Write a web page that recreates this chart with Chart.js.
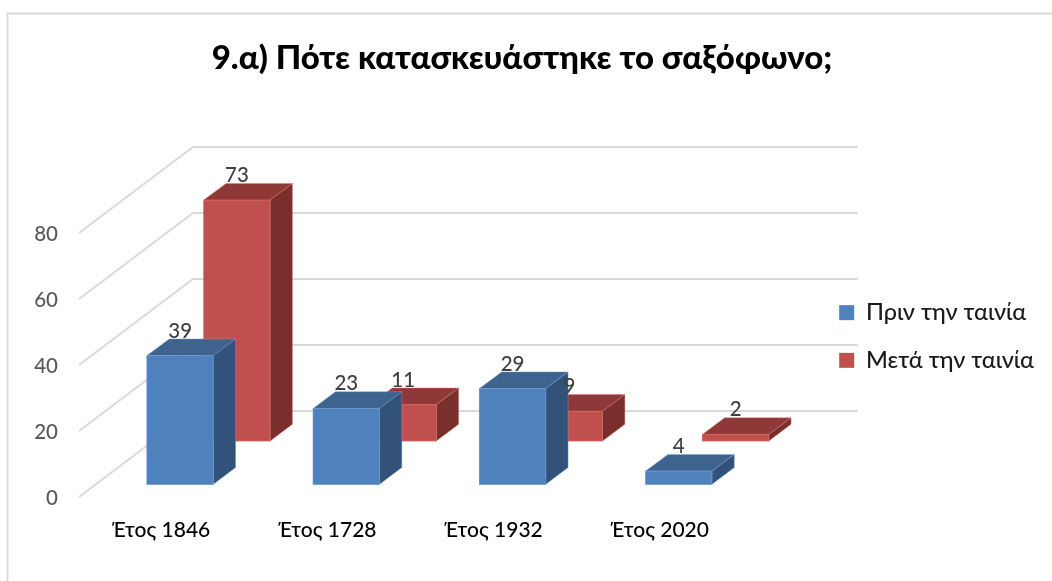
<!DOCTYPE html>
<html><head><meta charset="utf-8">
<style>html,body{margin:0;padding:0;background:#fff}canvas{display:block}</style>
<script src="https://cdn.jsdelivr.net/npm/chart.js@4"></script>
</head><body><canvas id="c" width="1052" height="581"></canvas>
<script>
const titleText = '9.α) Πότε κατασκευάστηκε το σαξόφωνο;';
const categories = ['Έτος 1846', 'Έτος 1728', 'Έτος 1932', 'Έτος 2020'];
const seriesNames = ['Πριν την ταινία', 'Μετά την ταινία'];
const before = [39, 23, 29, 4];
const after = [73, 11, 9, 2];
const yTicks = [0, 20, 40, 60, 80];

const FONT = 'Lato, "Open Sans", sans-serif';
const L = 80, R = 814, T = 163, B = 510;
const PX_Y = 3.3, PX_X = 166;
const DX = 22.3, DY = 16.7;
const yRange = z => ({min: (z - B) / PX_Y, max: (z - T) / PX_Y});
const xRange = c => ({min: (L - c) / PX_X, max: (R - c) / PX_X});
const catTicks = s => { s.ticks = categories.map((_, i) => ({value: i})); };
const valTicks = s => { s.ticks = yTicks.map(v => ({value: v})); };
const hiddenY = z => Object.assign({type: 'linear', axis: 'y', display: false, afterBuildTicks: valTicks}, yRange(z));
const hiddenX = c => Object.assign({type: 'linear', axis: 'x', display: false, offset: false, afterBuildTicks: catTicks}, xRange(c));
const points = arr => arr.map((v, i) => ({x: i, y: v}));

const looks = [
  {top: '#3E638F', side: '#325279', edge: 'rgba(125,165,220,.6)'},
  {top: '#8E3937', side: '#7A2F2D', edge: 'rgba(225,120,115,.6)'}
];

const frame = {
  id: 'frame',
  beforeDraw(chart) {
    const c = chart.ctx;
    c.save();
    c.strokeStyle = '#D9D9D9'; c.lineWidth = 1.8;
    c.beginPath(); c.moveTo(7.5, 581); c.lineTo(7.5, 13.5); c.lineTo(1052, 13.5); c.stroke();
    const f = chart.scales.yFrontEdge, b = chart.scales.yBack;
    yTicks.forEach(v => {
      c.beginPath();
      c.moveTo(79, f.getPixelForValue(v));
      c.lineTo(193, b.getPixelForValue(v));
      c.lineTo(858, b.getPixelForValue(v));
      c.stroke();
    });
    c.restore();
  },
  afterDatasetDraw(chart, args) {
    const c = chart.ctx, look = looks[args.index];
    const poly = (pts, fill) => {
      c.beginPath();
      pts.forEach((p, i) => i ? c.lineTo(p[0], p[1]) : c.moveTo(p[0], p[1]));
      c.closePath();
      c.fillStyle = fill; c.fill();
      c.strokeStyle = look.edge; c.lineWidth = 0.7; c.stroke();
    };
    c.save();
    args.meta.data.forEach(bar => {
      const l = bar.x - bar.width / 2, r = bar.x + bar.width / 2, t = bar.y, b = bar.base;
      poly([[l, t], [r, t], [r + DX, t - DY], [l + DX, t - DY]], look.top);
      poly([[r, t], [r + DX, t - DY], [r + DX, b - DY], [r, b]], look.side);
      c.strokeStyle = look.edge; c.lineWidth = 0.7; c.strokeRect(l, t, r - l, b - t);
    });
    c.restore();
  },
  afterDatasetsDraw(chart) {
    const c = chart.ctx;
    c.save();
    c.font = '500 20.5px ' + FONT; c.fillStyle = '#404040';
    c.textAlign = 'center'; c.textBaseline = 'middle';
    chart.data.datasets.forEach((ds, di) => {
      chart.getDatasetMeta(di).data.forEach((bar, i) => {
        c.fillText(String(ds.data[i].y), bar.x, bar.y - 24.7);
      });
    });
    c.restore();
  }
};

new Chart(document.getElementById('c'), {
  type: 'bar',
  data: {
    datasets: [
      {label: seriesNames[0], data: points(before), backgroundColor: '#4F81BD', xAxisID: 'xBlue', yAxisID: 'yBlue', order: 0, grouped: false, barThickness: 66.4, clip: false},
      {label: seriesNames[1], data: points(after), backgroundColor: '#C0504D', xAxisID: 'xRed', yAxisID: 'yRed', order: 1, grouped: false, barThickness: 66.4, clip: false}
    ]
  },
  plugins: [frame],
  options: {
    responsive: false,
    animation: false,
    layout: {padding: {left: 0, right: 8, top: 0, bottom: 0}},
    plugins: {
      title: {display: true, text: titleText, color: '#000', font: {family: FONT, size: 33, weight: '900'}, padding: {top: 39, bottom: 84.4}},
      legend: {
        position: 'right', fullSize: false,
        labels: {boxWidth: 15, boxHeight: 15, padding: 24.2, color: '#1a1a1a', font: {family: FONT, size: 23.5, weight: '500'}}
      },
      tooltip: {enabled: false}
    },
    scales: {
      x: Object.assign({
        type: 'linear', axis: 'x', position: 'bottom', offset: false,
        afterBuildTicks: catTicks,
        afterFit: s => { s.height = 581 - B; },
        grid: {display: false, drawTicks: false}, border: {display: false},
        ticks: {callback: v => categories[v], autoSkip: false, maxRotation: 0, padding: 8, color: '#000', font: {family: FONT, size: 21, weight: '500'}}
      }, xRange(161)),
      y: Object.assign({
        type: 'linear', axis: 'y', position: 'left',
        afterBuildTicks: valTicks,
        afterFit: s => { s.width = L; },
        grid: {display: false, drawTicks: false}, border: {display: false},
        ticks: {padding: 22, color: '#595959', font: {family: FONT, size: 20.5, weight: '500'}}
      }, yRange(498.5)),
      yFrontEdge: hiddenY(497),
      yBack: hiddenY(411),
      yBlue: hiddenY(484.3),
      yRed: hiddenY(441),
      xBlue: hiddenX(180),
      xRed: hiddenX(236.7)
    }
  }
});
</script></body></html>
